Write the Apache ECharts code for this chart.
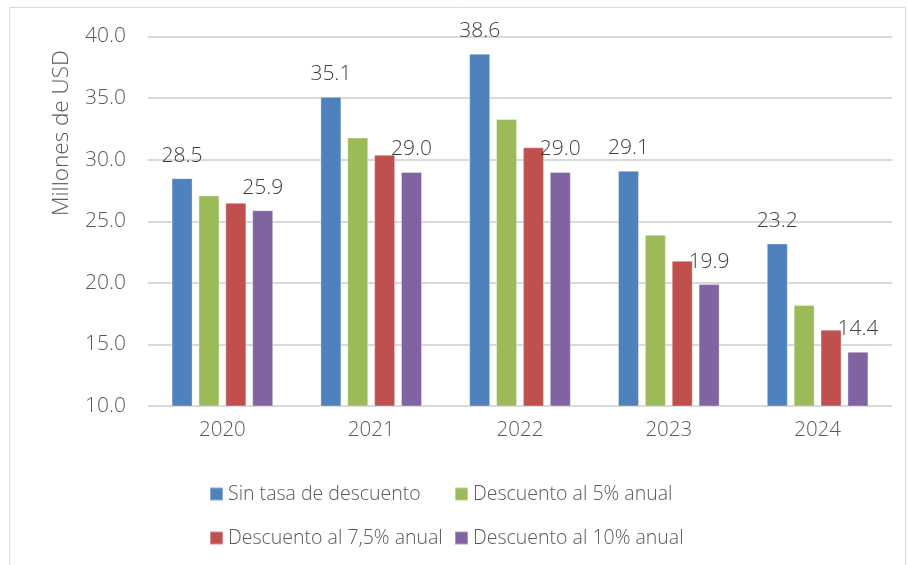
<!DOCTYPE html>
<html>
<head>
<meta charset="utf-8">
<script src="https://cdn.jsdelivr.net/npm/echarts@6/dist/echarts.min.js"></script>
<style>
  html, body { margin: 0; padding: 0; background: #fff; }
  #chart { width: 908px; height: 565px; }
</style>
</head>
<body>
<div id="chart"></div>
<script>
// Valor en millones de USD por año y escenario de descuento
const years = ['2020', '2021', '2022', '2023', '2024'];
const sinTasa = [28.5, 35.1, 38.6, 29.1, 23.2];
const desc5 = [27.1, 31.8, 33.3, 23.9, 18.2];
const desc75 = [26.5, 30.4, 31.0, 21.8, 16.2];
const desc10 = [25.9, 29.0, 29.0, 19.9, 14.4];
const yTicks = [10, 15, 20, 25, 30, 35, 40];

const seriesNames = [
  'Sin tasa de descuento',
  'Descuento al 5% anual',
  'Descuento al 7,5% anual',
  'Descuento al 10% anual'
];
const colors = ['#4F81BD', '#9BBB59', '#C0504D', '#8064A2'];
const FONT = '"Open Sans", "Noto Sans", sans-serif';
const WEIGHT = 300;

const chart = echarts.init(document.getElementById('chart'));

function barSeries(name, values, color, showLabel) {
  return {
    name: name,
    type: 'bar',
    data: values,
    barWidth: 21,
    barGap: '28%',
    itemStyle: { color: color, borderColor: 'rgba(255,255,255,0.35)', borderWidth: 1 },
    label: {
      show: showLabel,
      position: 'top',
      distance: 12,
      color: '#404040',
      fontFamily: FONT,
      fontWeight: WEIGHT,
      fontSize: 21,
      formatter: p => p.value.toFixed(1)
    }
  };
}

const legendText = { color: '#595959', fontFamily: FONT, fontWeight: WEIGHT, fontSize: 19.5 };

chart.setOption({
  animation: false,
  textStyle: { fontFamily: FONT },
  grid: { left: 148, right: 16, top: 36.5, bottom: 159 },
  legend: [
    {
      orient: 'vertical', left: 209, top: 484, padding: 0, itemGap: 24,
      itemWidth: 13, itemHeight: 13, icon: 'rect',
      data: [seriesNames[0], seriesNames[2]],
      textStyle: legendText
    },
    {
      orient: 'vertical', left: 454, top: 484, padding: 0, itemGap: 24,
      itemWidth: 13, itemHeight: 13, icon: 'rect',
      data: [seriesNames[1], seriesNames[3]],
      textStyle: legendText
    }
  ],
  xAxis: {
    type: 'category',
    data: years,
    axisLine: { show: false },
    axisTick: { show: false },
    axisLabel: { color: '#595959', fontSize: 20.5, fontWeight: WEIGHT, margin: 14, fontFamily: FONT }
  },
  yAxis: {
    type: 'value',
    min: yTicks[0],
    max: yTicks[yTicks.length - 1],
    interval: 5,
    axisLine: { show: false },
    axisTick: { show: false },
    axisLabel: {
      color: '#595959', fontSize: 21, fontWeight: WEIGHT, margin: 22, fontFamily: FONT,
      formatter: v => v.toFixed(1)
    },
    splitLine: { lineStyle: { color: '#D9D9D9', width: 2 } }
  },
  graphic: [
    {
      type: 'rect',
      shape: { x: 9.5, y: 7.5, width: 896, height: 570 },
      style: { fill: 'none', stroke: '#D9D9D9', lineWidth: 1 },
      silent: true
    },
    {
      type: 'text',
      x: 62, y: 133,
      rotation: Math.PI / 2,
      style: {
        text: 'Millones de USD',
        fill: '#595959',
        font: WEIGHT + ' 22.5px ' + FONT,
        align: 'center',
        verticalAlign: 'middle'
      }
    }
  ],
  series: [
    barSeries(seriesNames[0], sinTasa, colors[0], true),
    barSeries(seriesNames[1], desc5, colors[1], false),
    barSeries(seriesNames[2], desc75, colors[2], false),
    barSeries(seriesNames[3], desc10, colors[3], true)
  ]
});
</script>
</body>
</html>
